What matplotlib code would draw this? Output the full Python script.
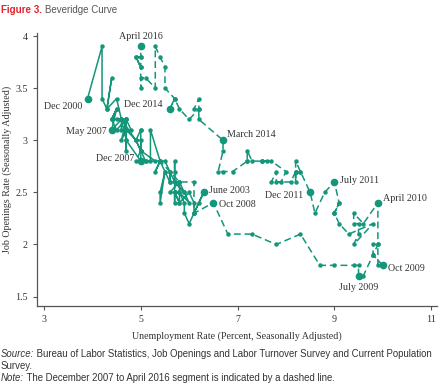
import matplotlib
matplotlib.use("Agg")
import matplotlib.pyplot as plt
import pandas as pd

# ---------------- Dados (Dec 2000 - Apr 2016, mensal) ----------------
unemp = [3.9,
    4.2, 4.2, 4.3, 4.4, 4.3, 4.5, 4.6, 4.9, 5.0, 5.3, 5.5, 5.7,   # 2001
    5.7, 5.7, 5.7, 5.9, 5.8, 5.8, 5.8, 5.7, 5.7, 5.7, 5.9, 6.0,   # 2002
    5.8, 5.9, 5.9, 6.0, 6.1, 6.3, 6.2, 6.1, 6.1, 6.0, 5.8, 5.7,   # 2003
    5.7, 5.6, 5.8, 5.6, 5.6, 5.6, 5.5, 5.4, 5.4, 5.5, 5.4, 5.4,   # 2004
    5.3, 5.4, 5.2, 5.2, 5.1, 5.0, 5.0, 4.9, 5.0, 5.0, 5.0, 4.9,   # 2005
    4.7, 4.8, 4.7, 4.7, 4.6, 4.6, 4.7, 4.7, 4.5, 4.4, 4.5, 4.4,   # 2006
    4.6, 4.5, 4.4, 4.5, 4.4, 4.6, 4.7, 4.6, 4.7, 4.7, 4.7, 5.0,   # 2007
    5.0, 4.9, 5.1, 5.0, 5.4, 5.6, 5.8, 6.1, 6.1, 6.5, 6.8, 7.3,   # 2008
    7.8, 8.3, 8.7, 9.0, 9.4, 9.5, 9.5, 9.6, 9.8, 10.0, 9.9, 9.9,  # 2009
    9.8, 9.8, 9.9, 9.9, 9.6, 9.4, 9.4, 9.5, 9.5, 9.4, 9.8, 9.3,   # 2010
    9.1, 9.0, 9.0, 9.1, 9.0, 9.1, 9.0, 9.0, 9.0, 8.8, 8.6, 8.5,   # 2011
    8.3, 8.3, 8.2, 8.2, 8.2, 8.2, 8.2, 8.1, 7.8, 7.8, 7.7, 7.9,   # 2012
    8.0, 7.7, 7.5, 7.6, 7.5, 7.5, 7.3, 7.2, 7.2, 7.2, 6.9, 6.7,   # 2013
    6.6, 6.7, 6.7, 6.2, 6.2, 6.1, 6.2, 6.2, 6.0, 5.8, 5.7, 5.6,   # 2014
    5.7, 5.5, 5.5, 5.4, 5.3, 5.3, 5.1, 5.0, 5.0, 5.0, 5.0, 4.9,   # 2015
    5.0, 4.9, 5.0, 5.0]                                           # 2016

openings = [3.4,
    3.9, 3.4, 3.3, 3.6, 3.3, 3.4, 3.2, 3.0, 2.9, 2.8, 2.8, 2.6,   # 2001
    2.8, 2.7, 2.6, 2.5, 2.6, 2.5, 2.4, 2.5, 2.4, 2.6, 2.5, 2.4,   # 2002
    2.5, 2.4, 2.3, 2.2, 2.3, 2.5, 2.4, 2.3, 2.4, 2.5, 2.4, 2.5,   # 2003
    2.5, 2.5, 2.6, 2.6, 2.7, 2.6, 2.7, 2.5, 2.4, 2.7, 2.8, 2.8,   # 2004
    2.7, 2.8, 3.1, 2.8, 2.8, 2.9, 3.0, 3.0, 2.9, 3.1, 3.1, 3.0,   # 2005
    3.1, 3.1, 3.2, 3.1, 3.1, 3.2, 3.0, 3.2, 3.1, 3.2, 3.3, 3.2,   # 2006
    3.2, 3.2, 3.2, 3.3, 3.1, 3.2, 3.2, 3.0, 3.1, 2.9, 3.0, 2.8,   # 2007
    2.9, 2.8, 2.8, 2.8, 2.8, 2.7, 2.6, 2.6, 2.3, 2.4, 2.1, 2.1,   # 2008
    2.0, 2.1, 1.8, 1.8, 1.8, 1.8, 1.7, 1.7, 1.9, 1.8, 1.8, 2.0,   # 2009
    2.0, 1.9, 2.0, 2.4, 2.2, 2.3, 2.2, 2.2, 2.1, 2.0, 2.2, 2.1,   # 2010
    2.2, 2.3, 2.3, 2.4, 2.3, 2.4, 2.6, 2.6, 2.6, 2.5, 2.3, 2.5,   # 2011
    2.7, 2.7, 2.8, 2.7, 2.6, 2.7, 2.7, 2.6, 2.6, 2.7, 2.6, 2.6,   # 2012
    2.7, 2.8, 2.8, 2.8, 2.8, 2.8, 2.8, 2.9, 2.8, 2.8, 2.7, 2.7,   # 2013
    2.7, 2.9, 3.0, 3.2, 3.3, 3.3, 3.4, 3.3, 3.2, 3.3, 3.4, 3.3,   # 2014
    3.4, 3.5, 3.7, 3.8, 3.9, 3.5, 3.6, 3.6, 3.5, 3.7, 3.8, 3.8,   # 2015
    3.7, 3.8, 3.8, 3.9]                                           # 2016

inicio = "2000-12-01"
corte = "2007-12-01"   # a partir daqui: linha tracejada

rotulos = ["Dec 2000", "May 2007", "Dec 2007", "June 2003", "Oct 2008",
           "July 2009", "Oct 2009", "April 2010", "July 2011", "Dec 2011",
           "March 2014", "Dec 2014", "April 2016"]
rotulo_datas = ["2000-12", "2007-05", "2007-12", "2003-06", "2008-10",
                "2009-07", "2009-10", "2010-04", "2011-07", "2011-12",
                "2014-03", "2014-12", "2016-04"]
# deslocamento do texto (pontos) e alinhamento
rotulo_pos = [(-4, -6, "right", "center"), (-4, -1, "right", "center"),
              (-5, 2, "right", "center"), (4, 1, "left", "center"),
              (4, -1, "left", "center"), (0, -5, "center", "top"),
              (4, -2, "left", "center"), (4, 3, "left", "center"),
              (4, 1, "left", "center"), (-5, -2, "right", "center"),
              (3, 4, "left", "center"), (-5, 3, "right", "center"),
              (0, 4, "center", "bottom")]

COR = "#13967a"
CINZA = "#333333"

meses = pd.date_range(inicio, periods=len(unemp), freq="MS")
df = pd.DataFrame({"u": unemp, "j": openings}, index=meses)
solido = df.loc[:corte]
tracejado = df.loc[corte:]

# ---------------- Gráfico ----------------
fig = plt.figure(figsize=(4.4, 3.89), dpi=100)
ax = fig.add_axes([0.084, 0.2134, 0.909, 0.702])

ax.plot(solido["u"], solido["j"], color=COR, lw=1.1, marker="o", ms=3.2,
        mew=0)
ax.plot(tracejado["u"], tracejado["j"], color=COR, lw=1.1, marker="o",
        ms=3.2, mew=0, dashes=(4.5, 2.5))

serif = "Liberation Serif"
for txt, d, (dx, dy, ha, va) in zip(rotulos, rotulo_datas, rotulo_pos):
    p = df.loc[d].iloc[0]
    ax.plot(p["u"], p["j"], "o", color=COR, ms=5.5, mew=0)
    ax.annotate(txt, (p["u"], p["j"]), xytext=(dx, dy),
                textcoords="offset points", ha=ha, va=va,
                fontsize=7.2, family=serif, color=CINZA)

ax.set_xlim(2.855, 11.12)
ax.set_ylim(1.41, 4.03)
ax.set_xticks([3, 5, 7, 9, 11])
ax.set_yticks([1.5, 2, 2.5, 3, 3.5, 4])
ax.set_yticklabels(["1.5", "2", "2.5", "3", "3.5", "4"])
ax.tick_params(labelsize=7.2, colors="#555555", length=3, width=0.8,
               labelcolor=CINZA)
for lab in ax.get_xticklabels() + ax.get_yticklabels():
    lab.set_family(serif)
for s in ["top", "right"]:
    ax.spines[s].set_visible(False)
for s in ["left", "bottom"]:
    ax.spines[s].set_color("#555555")
    ax.spines[s].set_linewidth(0.9)

ax.set_xlabel("Unemployment Rate (Percent, Seasonally Adjusted)",
              fontsize=7.2, family=serif, color=CINZA, labelpad=5)
ax.set_ylabel("Job Openings Rate (Seasonally Adjusted)",
              fontsize=7.2, family=serif, color=CINZA)
ax.yaxis.set_label_coords(-0.063, 0.5)

# título
sans = "Liberation Sans"
t = fig.text(0.002, 0.988, "Figure 3.", fontsize=7, weight="bold",
             color="#e2232a", family=sans, va="top")
fig.canvas.draw()
bb = t.get_window_extent()
fig.text(bb.x1 / fig.bbox.width + 0.006, 0.988, "Beveridge Curve",
         fontsize=7, color="#555555", family=sans, va="top")

# notas
linhas = [("Source:", " Bureau of Labor Statistics, Job Openings and Labor Turnover Survey and Current Population", 354),
          ("", "Survey.", 366),
          ("Note:", " The December 2007 to April 2016 segment is indicated by a dashed line.", 378)]
for ital, resto, ypx in linhas:
    x0 = 0.002
    if ital:
        ti = fig.text(x0, 1 - ypx / 389, ital, fontsize=6.95, family=sans,
                      style="italic", color=CINZA, va="center")
        fig.canvas.draw()
        x0 = ti.get_window_extent().x1 / fig.bbox.width
    fig.text(x0, 1 - ypx / 389, resto, fontsize=6.95, family=sans,
             color=CINZA, va="center")

fig.savefig("out.png", dpi=100)
plt.close(fig)
